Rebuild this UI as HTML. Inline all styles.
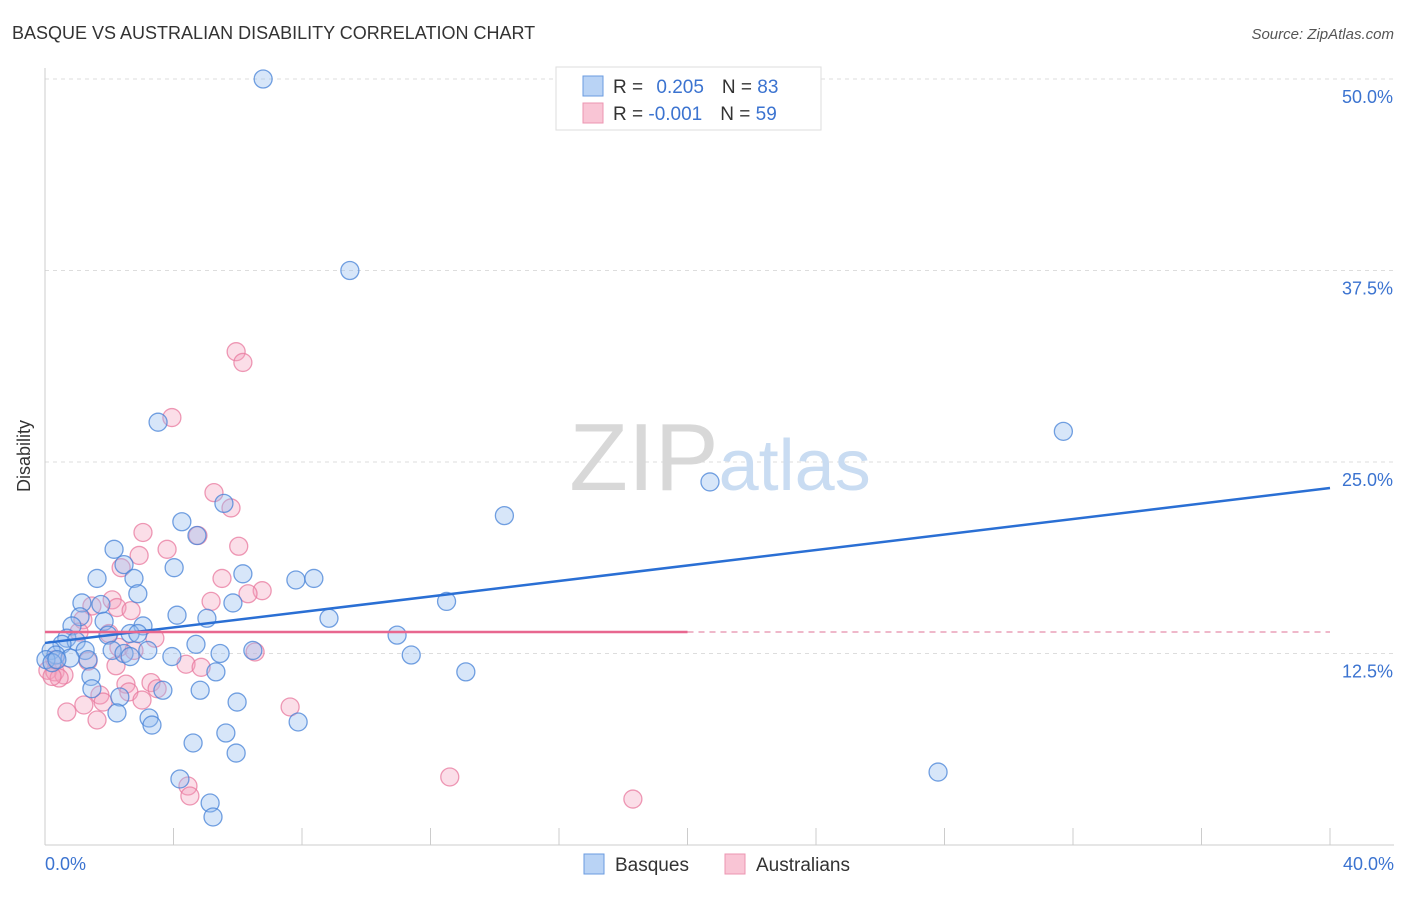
<!DOCTYPE html>
<html><head><meta charset="utf-8"><style>
body{margin:0;background:#fff;font-family:"Liberation Sans",sans-serif;}
svg text{font-family:"Liberation Sans",sans-serif;}
</style></head><body>
<svg width="1406" height="892">
<text x="12" y="39" font-size="18" fill="#333">BASQUE VS AUSTRALIAN DISABILITY CORRELATION CHART</text>
<text x="1394" y="39" font-size="15" fill="#555" font-style="italic" text-anchor="end">Source: ZipAtlas.com</text>
<g id="grid"></g>
<text x="720" y="490" font-size="96" text-anchor="middle" fill="#ddd" font-family="Liberation Serif"><tspan fill="#d8d8d8">ZIP</tspan><tspan fill="#c9dcf2" font-family="Liberation Sans" font-size="72">atlas</tspan></text>
<g id="axes"></g>
<g id="pts"></g>
<g id="lines"></g>
<text x="30" y="456" font-size="18" fill="#333" transform="rotate(-90 30 456)" text-anchor="middle">Disability</text>
<text x="45" y="870" font-size="18" fill="#3b73d0">0.0%</text>
<text x="1394" y="870" font-size="18" fill="#3b73d0" text-anchor="end">40.0%</text>
<g>
<rect x="556" y="67" width="265" height="63" fill="#fff" stroke="#ddd"/>
<rect x="583" y="76" width="20" height="20" fill="#b9d3f5" stroke="#6a9be0"/>
<rect x="583" y="103" width="20" height="20" fill="#f9c5d5" stroke="#ec95b1"/>
<text x="613" y="93" font-size="19" fill="#333">R = <tspan fill="#3b73d0" dx="8">0.205</tspan><tspan dx="18">N = </tspan><tspan fill="#3b73d0">83</tspan></text>
<text x="613" y="120" font-size="19" fill="#333">R = <tspan fill="#3b73d0">-0.001</tspan><tspan dx="18">N = </tspan><tspan fill="#3b73d0">59</tspan></text>
</g>
<g>
<rect x="584" y="854" width="20" height="20" fill="#b9d3f5" stroke="#6a9be0"/>
<text x="615" y="871" font-size="19" fill="#333">Basques</text>
<rect x="725" y="854" width="20" height="20" fill="#f9c5d5" stroke="#ec95b1"/>
<text x="756" y="871" font-size="19" fill="#333">Australians</text>
</g>
</svg>
<script>
const yTicks=[12.5,25,37.5,50];
const xTicks=[0,4,8,12,16,20,24,28,32,36,40];
const basqueX=[6.79,9.49,3.52,31.7,20.7,14.3,5.57,4.26,4.73,2.15,2.46,4.02,1.62,2.77,6.16,7.81,8.37,2.89,5.85,1.74,1.15,12.5,4.11,5.04,8.84,1.09,1.84,3.05,0.84,2.65,1.96,2.89,10.96,0.68,0.97,4.70,0.53,1.25,6.47,3.20,2.09,0.19,0.34,2.46,2.65,5.45,11.4,3.95,0.78,1.34,0.03,0.22,5.32,13.1,1.43,1.46,3.67,4.83,2.33,5.98,2.24,3.24,3.33,7.88,5.63,4.61,5.95,27.8,4.20,5.14,5.23,0.37];
const basqueY=[50.0,37.5,27.6,27.0,23.7,21.5,22.3,21.1,20.2,19.3,18.3,18.1,17.4,17.4,17.7,17.3,17.4,16.4,15.8,15.7,15.8,15.9,15.0,14.8,14.8,14.9,14.6,14.3,14.3,13.8,13.7,13.8,13.7,13.5,13.3,13.1,13.1,12.7,12.7,12.7,12.7,12.7,12.4,12.5,12.3,12.5,12.4,12.3,12.2,12.1,12.1,11.9,11.3,11.3,11.0,10.2,10.1,10.1,9.66,9.33,8.62,8.29,7.83,8.03,7.31,6.66,6.00,4.76,4.31,2.74,1.83,12.1];
const ausX=[5.95,6.16,3.95,5.26,5.79,3.05,4.76,3.80,2.93,6.03,2.37,5.51,6.76,6.32,5.17,2.09,2.24,2.68,1.46,1.18,1.06,1.99,3.42,2.30,2.77,6.54,1.34,4.39,4.86,2.21,0.09,0.31,0.59,0.44,0.22,2.52,3.30,3.49,2.61,1.71,3.02,1.81,1.21,7.63,0.68,1.62,12.6,4.45,4.51,18.3,0.31];
const ausY=[32.2,31.5,27.9,23.0,22.0,20.4,20.2,19.3,18.9,19.5,18.1,17.4,16.6,16.4,15.9,16.0,15.5,15.3,15.6,14.7,13.9,13.8,13.5,12.9,12.7,12.6,12.0,11.8,11.6,11.7,11.4,11.3,11.1,10.9,11.0,10.5,10.6,10.2,9.99,9.79,9.46,9.33,9.14,9.01,8.68,8.16,4.44,3.85,3.20,3.00,12.1];
const basqueTrend=[13.19,23.3];
const ausTrend=[13.9,13.9];
const X=v=>45+v/40*1285, Y=v=>845-v/12.5*191.5;
const NS='http://www.w3.org/2000/svg';
function mk(p,t,a){const e=document.createElementNS(NS,t);for(const k in a)e.setAttribute(k,a[k]);p.appendChild(e);return e;}
const grid=document.getElementById('grid'),axes=document.getElementById('axes');
yTicks.forEach(t=>{const l=mk(grid,'line',{x1:45,x2:1394,y1:Y(t),y2:Y(t),stroke:'#ddd','stroke-dasharray':'4,4'});


const tx=mk(grid,'text',{x:1393,y:Y(t)+24,'font-size':18,fill:'#3b73d0','text-anchor':'end'});tx.textContent=t.toFixed(1)+'%';

});
mk(axes,'line',{x1:45,x2:45,y1:68,y2:845,stroke:'#ccc'});
mk(axes,'line',{x1:45,x2:1394,y1:845,y2:845,stroke:'#ccc'});
xTicks.forEach(t=>{const l=mk(axes,'line',{x1:X(t),x2:X(t),y1:828,y2:845,stroke:'#ccc'});

});
const pts=document.getElementById('pts');
ausX.forEach((x,i)=>{const c=mk(pts,'circle',{cx:X(x),cy:Y(ausY[i]),r:9,fill:'rgba(244,160,188,0.35)',stroke:'rgba(232,120,158,0.75)','stroke-width':1.3});

});
basqueX.forEach((x,i)=>{const c=mk(pts,'circle',{cx:X(x),cy:Y(basqueY[i]),r:9,fill:'rgba(150,190,240,0.38)',stroke:'rgba(70,130,215,0.75)','stroke-width':1.3});

});
const ln=document.getElementById('lines');
let a=mk(ln,'line',{x1:X(0),x2:X(40),y1:Y(basqueTrend[0]),y2:Y(basqueTrend[1]),stroke:'#2a6fd4','stroke-width':2.5});


let b=mk(ln,'line',{x1:X(0),x2:X(20),y1:Y(ausTrend[0]),y2:Y(ausTrend[0]),stroke:'#e8678f','stroke-width':2.5});


let c=mk(ln,'line',{x1:X(20),x2:X(40),y1:Y(ausTrend[0]),y2:Y(ausTrend[1]),stroke:'#eaa0b8','stroke-width':1.5,'stroke-dasharray':'6,5'});


</script>
</body></html>
